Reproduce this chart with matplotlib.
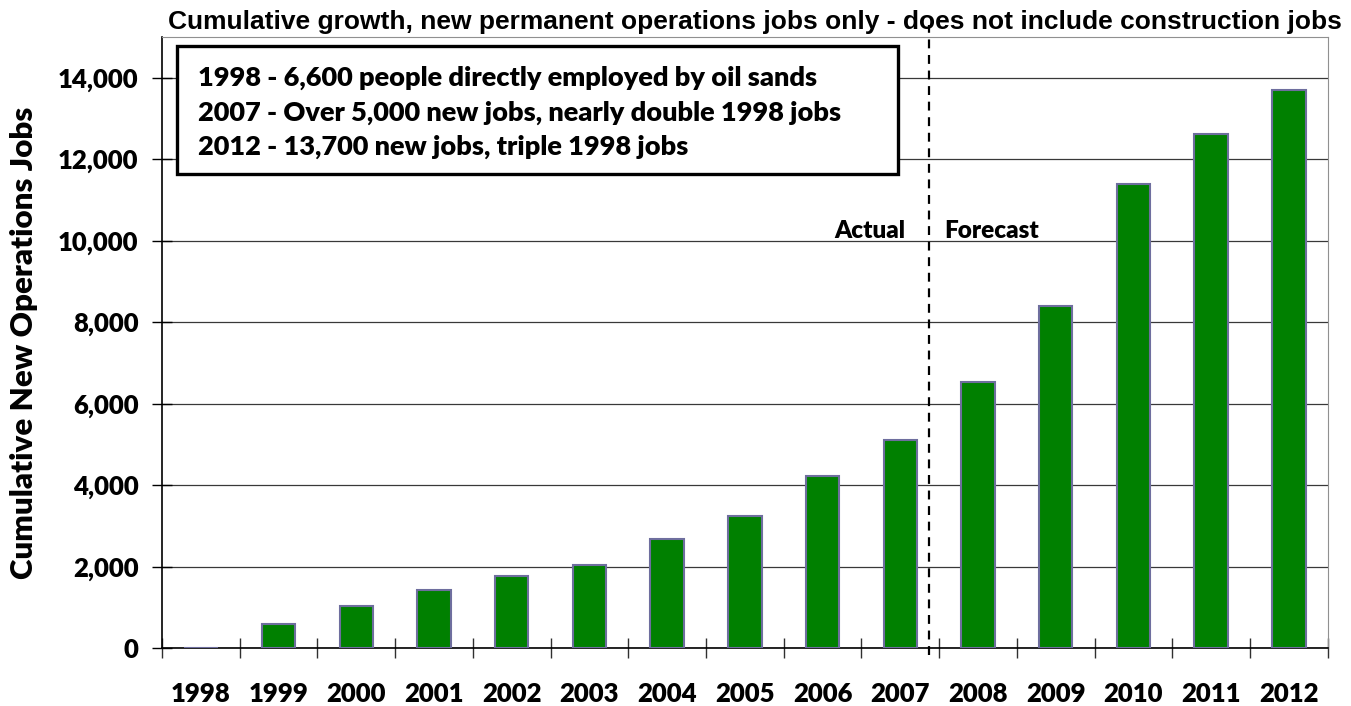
import matplotlib
matplotlib.use("Agg")
import matplotlib.pyplot as plt
from matplotlib.patches import Rectangle
import numpy as np

# data
years = ["1998", "1999", "2000", "2001", "2002", "2003", "2004", "2005",
         "2006", "2007", "2008", "2009", "2010", "2011", "2012"]
jobs = [0, 590, 1030, 1435, 1780, 2040, 2670, 3240, 4220, 5120,
        6540, 8410, 11390, 12620, 13700]
yticks = [0, 2000, 4000, 6000, 8000, 10000, 12000, 14000]
notes = ["1998 - 6,600 people directly employed by oil sands",
         "2007 - Over 5,000 new jobs, nearly double 1998 jobs",
         "2012 - 13,700 new jobs, triple 1998 jobs"]
title = "Cumulative growth, new permanent operations jobs only - does not include construction jobs"

body = {"family": "Lato", "weight": "heavy"}
W, H = 1351, 706

fig = plt.figure(figsize=(13.51, 7.06), dpi=100)
ax = fig.add_axes([162/W, 1-648.3/H, (1327.7-162)/W, (648.3-37)/H])

x = np.arange(len(years))
ax.bar(x, jobs, width=0.43, color="#008000", edgecolor="#6e6e9e", linewidth=1.5, zorder=3)

ax.set_xlim(-0.5, len(years)-0.5)
ax.set_ylim(0, 15000)

ax.set_yticks(yticks)
ax.set_yticklabels([f"{v:,}" for v in yticks], fontdict=dict(body, size=18.5))
ax.tick_params(axis="y", direction="inout", length=14, width=1, pad=10)
ax.grid(axis="y", color="#383838", linewidth=0.9, zorder=1)

ax.set_xticks(x)
ax.set_xticklabels(years, fontdict=dict(body, size=18.5))
ax.tick_params(axis="x", which="major", length=0, pad=24)
ax.set_xticks(np.arange(len(years)+1)-0.5, minor=True)
ax.tick_params(axis="x", which="minor", direction="inout", length=14, width=1, color="#303030")

for s in ["top", "right"]:
    ax.spines[s].set_color("#909090")
for s in ["left", "bottom"]:
    ax.spines[s].set_color("black")
    ax.spines[s].set_linewidth(1.2)

ax.set_ylabel("Cumulative New Operations Jobs", fontdict=dict(body, size=22.5), labelpad=14)

# actual / forecast divider
split = 9.5 - 0.13
ax.plot([split, split], [-170, 15300], color="black", linestyle=(0, (4, 3)),
        linewidth=1.6, clip_on=False, zorder=4)
ax.text(split-0.3, 10060, "Actual", ha="right", va="baseline", fontdict=dict(body, size=17.5))
ax.text(split+0.2, 10060, "Forecast", ha="left", va="baseline", fontdict=dict(body, size=17.5))

fig.text(755/W, 1-22/H, title, ha="center", va="center",
         family="Liberation Sans", weight="bold", size=19)

# note box
fig.patches.append(Rectangle((177/W, 1-174/H), (898-177)/W, (174-46)/H, transform=fig.transFigure,
                             facecolor="white", edgecolor="black", linewidth=2.4, zorder=5))
for i, line in enumerate(notes):
    fig.text(198/W, 1-(78+34.5*i)/H, line, ha="left", va="center",
             fontdict=dict(body, size=19.5), zorder=6)

fig.savefig("out.png", dpi=100)
